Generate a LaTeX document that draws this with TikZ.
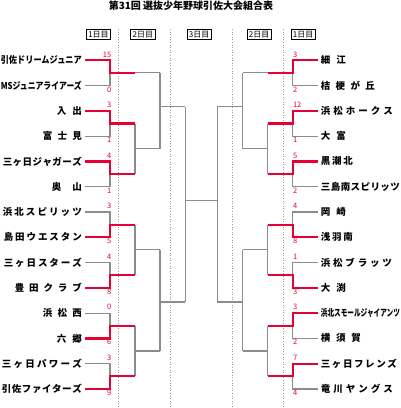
\documentclass[tikz,border=0pt]{standalone}
\usepackage{graphicx,xcolor}
\usepackage{fontspec}
\newfontfamily\jp{Noto Sans CJK JP}
\definecolor{kred}{RGB}{230,0,51}
\definecolor{kgray}{RGB}{140,140,140}

% spread a name to a width, or squeeze it when too long
\newdimen\namewd
\def\spreadchars#1{\ifx#1\relax\else#1\expandafter\spreadnext\fi}
\def\spreadnext#1{\ifx#1\relax\else\hfil#1\expandafter\spreadnext\fi}
\newcommand\fitname[2]{%
  \settowidth\namewd{#2}%
  \ifdim\namewd>#1\relax
    \edef\namesc{\fpeval{(#1)/(\namewd)}}%
    \scalebox{\namesc}[1]{#2}%
  \else
    \makebox[#1][s]{\spreadchars#2\relax}%
  \fi}

\begin{document}
\begin{tikzpicture}[x=1pt, y=-1pt,
  lteam/.style={font=\jp\bfseries\fontsize{9.5}{12}\selectfont, anchor=east,
                inner sep=0pt, inner xsep=3pt},
  rteam/.style={font=\jp\bfseries\fontsize{9.5}{12}\selectfont, anchor=west,
                inner sep=0pt, inner xsep=2.7pt},
  score/.style={font=\jp\fontsize{7.5}{9}\selectfont, text=kred, inner sep=0pt},
  lhi/.style={score, anchor=base east, yshift=3.3pt},
  llo/.style={score, anchor=base east, yshift=-6.5pt},
  rhi/.style={score, anchor=base west, yshift=3.3pt},
  rlo/.style={score, anchor=base west, yshift=-6.5pt},
  daybox/.style={rectangle, draw, line width=0.8pt, minimum width=24.5pt,
                 minimum height=10pt, inner sep=0pt, font=\jp\fontsize{8}{8}\selectfont},
  lose/.style={draw=kgray, line width=1.1pt},
  win/.style={draw=kred, line width=2.2pt},
  sepline/.style={draw=kgray!85, line width=0.8pt, dash pattern=on 1pt off 1.6pt}
]
\useasboundingbox (0,0) rectangle (400,408);

% Title and day headers
\node[font=\jp\bfseries\fontsize{10}{12}\selectfont, inner sep=0pt] (title) at (191,5.3) {第31回 選抜少年野球引佐大会組合表};
\node[daybox] (d1l) at (98.5,34.5)  {1日目};
\node[daybox] (d2l) at (142.8,34.5) {2日目};
\node[daybox] (d3)  at (199.2,34.5) {3日目};
\node[daybox] (d2r) at (259.2,34.5) {2日目};
\node[daybox] (d1r) at (303.2,34.5) {1日目};

% Day separators
\draw[sepline] (118.3,29) -- (118.3,408);
\draw[sepline] (170.7,29) -- (170.7,408);
\draw[sepline] (232.0,29) -- (232.0,408);
\draw[sepline] (283.3,29) -- (283.3,408);

% Left teams
\node[lteam] (L1)  at (85,60.3)  {\fitname{81pt}{引佐ドリームジュニア}};
\node[lteam] (L2)  at (85,85.6)  {\fitname{81pt}{MSジュニアライアーズ}};
\node[lteam] (L3)  at (85,110.9) {\fitname{25pt}{入出}};
\node[lteam] (L4)  at (85,136.1) {\fitname{39pt}{富士見}};
\node[lteam] (L5)  at (85,161.4) {\fitname{79pt}{三ヶ日ジャガーズ}};
\node[lteam] (L6)  at (85,186.7) {\fitname{30pt}{奥山}};
\node[lteam] (L7)  at (85,212.0) {\fitname{79pt}{浜北スピリッツ}};
\node[lteam] (L8)  at (85,237.3) {\fitname{78pt}{島田ウエスタン}};
\node[lteam] (L9)  at (85,262.5) {\fitname{78pt}{三ヶ日スターズ}};
\node[lteam] (L10) at (85,287.8) {\fitname{67pt}{豊田クラブ}};
\node[lteam] (L11) at (85,313.1) {\fitname{39pt}{浜松西}};
\node[lteam] (L12) at (85,338.4) {\fitname{25pt}{六郷}};
\node[lteam] (L13) at (85,363.7) {\fitname{80pt}{三ヶ日パワーズ}};
\node[lteam] (L14) at (85,389.0) {\fitname{80pt}{引佐ファイターズ}};

% Right teams
\node[rteam] (R1)  at (318,60.3)  {\fitname{25pt}{細江}};
\node[rteam] (R2)  at (318,85.6)  {\fitname{54pt}{桔梗が丘}};
\node[rteam] (R3)  at (318,110.9) {\fitname{72pt}{浜松ホークス}};
\node[rteam] (R4)  at (318,136.1) {\fitname{25pt}{大富}};
\node[rteam] (R5)  at (318,161.4) {\fitname{32pt}{黒潮北}};
\node[rteam] (R6)  at (318,186.7) {\fitname{79pt}{三島南スピリッツ}};
\node[rteam] (R7)  at (318,212.0) {\fitname{25pt}{岡崎}};
\node[rteam] (R8)  at (318,237.3) {\fitname{32pt}{浅羽南}};
\node[rteam] (R9)  at (318,262.5) {\fitname{71pt}{浜松ブラッツ}};
\node[rteam] (R10) at (318,287.8) {\fitname{25pt}{大渕}};
\node[rteam] (R11) at (318,313.1) {\fitname{79pt}{浜北スモールジャイアンツ}};
\node[rteam] (R12) at (318,338.4) {\fitname{40pt}{横須賀}};
\node[rteam] (R13) at (318,363.7) {\fitname{76pt}{三ヶ日フレンズ}};
\node[rteam] (R14) at (318,389.0) {\fitname{72pt}{竜川ヤングス}};

% Bracket points, left
\coordinate (lm1) at (110,72.9);  \coordinate (lw1) at (135,72.9);
\coordinate (lm2) at (110,123.5); \coordinate (lw2) at (135,123.5);
\coordinate (lm3) at (110,174.1); \coordinate (lw3) at (135,174.1);
\coordinate (lm4) at (110,224.6); \coordinate (lw4) at (135,224.6);
\coordinate (lm5) at (110,275.2); \coordinate (lw5) at (135,275.2);
\coordinate (lm6) at (110,325.8); \coordinate (lw6) at (135,325.8);
\coordinate (lm7) at (110,376.3); \coordinate (lw7) at (135,376.3);
\coordinate (lb1)  at (160,72.9);
\coordinate (lj23) at (135,148.8); \coordinate (lb23) at (160,148.8);
\coordinate (lj45) at (135,249.9); \coordinate (lb45) at (160,249.9);
\coordinate (lj67) at (135,351.0); \coordinate (lb67) at (160,351.0);
\coordinate (lt1) at (160,106.7); \coordinate (lf1) at (185.3,106.7);
\coordinate (lt2) at (160,302.0); \coordinate (lf2) at (185.3,302.0);
\coordinate (lc)  at (185.3,200.7);

% Bracket points, right
\coordinate (rm1) at (292.8,72.9);  \coordinate (rw1) at (267.8,72.9);
\coordinate (rm2) at (292.8,123.5); \coordinate (rw2) at (267.8,123.5);
\coordinate (rm3) at (292.8,174.1); \coordinate (rw3) at (267.8,174.1);
\coordinate (rm4) at (292.8,224.6); \coordinate (rw4) at (267.8,224.6);
\coordinate (rm5) at (292.8,275.2); \coordinate (rw5) at (267.8,275.2);
\coordinate (rm6) at (292.8,325.8); \coordinate (rw6) at (267.8,325.8);
\coordinate (rm7) at (292.8,376.3); \coordinate (rw7) at (267.8,376.3);
\coordinate (rb1)  at (242.5,72.9);
\coordinate (rj23) at (267.8,148.8); \coordinate (rb23) at (242.5,148.8);
\coordinate (rj45) at (267.8,249.9); \coordinate (rb45) at (242.5,249.9);
\coordinate (rj67) at (267.8,351.0); \coordinate (rb67) at (242.5,351.0);
\coordinate (rt1) at (242.5,106.7); \coordinate (rf1) at (217.3,106.7);
\coordinate (rt2) at (242.5,302.0); \coordinate (rf2) at (217.3,302.0);
\coordinate (rc)  at (217.3,200.7);

% Losing lines and later rounds
\draw[lose] (L2.east) -| (lm1);  \draw[lose] (L4.east) -| (lm2);
\draw[lose] (L6.east) -| (lm3);  \draw[lose] (L7.east) -| (lm4);
\draw[lose] (L9.east) -| (lm5);  \draw[lose] (L11.east) -| (lm6);
\draw[lose] (L13.east) -| (lm7);
\draw[lose] (R2.west) -| (rm1);  \draw[lose] (R4.west) -| (rm2);
\draw[lose] (R6.west) -| (rm3);  \draw[lose] (R7.west) -| (rm4);
\draw[lose] (R9.west) -| (rm5);  \draw[lose] (R12.west) -| (rm6);
\draw[lose] (R14.west) -| (rm7);

\draw[lose] (lw1) -- (lb1) (lw2) -- (lw3) (lj23) -- (lb23)
            (lw4) -- (lw5) (lj45) -- (lb45) (lw6) -- (lw7) (lj67) -- (lb67);
\draw[lose] (lb1) -- (lb23) (lt1) -- (lf1) (lb45) -- (lb67) (lt2) -- (lf2);
\draw[lose] (rw1) -- (rb1) (rw2) -- (rw3) (rj23) -- (rb23)
            (rw4) -- (rw5) (rj45) -- (rb45) (rw6) -- (rw7) (rj67) -- (rb67);
\draw[lose] (rb1) -- (rb23) (rt1) -- (rf1) (rb45) -- (rb67) (rt2) -- (rf2);
\draw[lose] (lf1) -- (lf2) (lc) -- (rc) (rf1) -- (rf2);

% Winning lines
\draw[win] (L1.east)  -| (lm1) -- (lw1);
\draw[win] (L3.east)  -| (lm2) -- (lw2);
\draw[win] (L5.east)  -| (lm3) -- (lw3);
\draw[win] (L8.east)  -| (lm4) -- (lw4);
\draw[win] (L10.east) -| (lm5) -- (lw5);
\draw[win] (L12.east) -| (lm6) -- (lw6);
\draw[win] (L14.east) -| (lm7) -- (lw7);
\draw[win] (R1.west)  -| (rm1) -- (rw1);
\draw[win] (R3.west)  -| (rm2) -- (rw2);
\draw[win] (R5.west)  -| (rm3) -- (rw3);
\draw[win] (R8.west)  -| (rm4) -- (rw4);
\draw[win] (R10.west) -| (rm5) -- (rw5);
\draw[win] (R11.west) -| (rm6) -- (rw6);
\draw[win] (R13.west) -| (rm7) -- (rw7);

% Scores
\node[lhi] (sl1)  at (111.5,60.3)  {15};
\node[llo] (sl2)  at (111.5,85.6)  {0};
\node[lhi] (sl3)  at (111.5,110.9) {3};
\node[llo] (sl4)  at (111.5,136.1) {1};
\node[lhi] (sl5)  at (111.5,161.4) {4};
\node[llo] (sl6)  at (111.5,186.7) {1};
\node[lhi] (sl7)  at (111.5,212.0) {3};
\node[llo] (sl8)  at (111.5,237.3) {5};
\node[lhi] (sl9)  at (111.5,262.5) {4};
\node[llo] (sl10) at (111.5,287.8) {8};
\node[lhi] (sl11) at (111.5,313.1) {0};
\node[llo] (sl12) at (111.5,338.4) {6};
\node[lhi] (sl13) at (111.5,363.7) {3};
\node[llo] (sl14) at (111.5,389.0) {9};
\node[rhi] (sr1)  at (292.8,60.3)  {3};
\node[rlo] (sr2)  at (292.8,85.6)  {2};
\node[rhi] (sr3)  at (292.8,110.9) {12};
\node[rlo] (sr4)  at (292.8,136.1) {1};
\node[rhi] (sr5)  at (292.8,161.4) {5};
\node[rlo] (sr6)  at (292.8,186.7) {2};
\node[rhi] (sr7)  at (292.8,212.0) {4};
\node[rlo] (sr8)  at (292.8,237.3) {8};
\node[rhi] (sr9)  at (292.8,262.5) {1};
\node[rlo] (sr10) at (292.8,287.8) {3};
\node[rhi] (sr11) at (292.8,313.1) {3};
\node[rlo] (sr12) at (292.8,338.4) {2};
\node[rhi] (sr13) at (292.8,363.7) {7};
\node[rlo] (sr14) at (292.8,389.0) {4};
\end{tikzpicture}
\end{document}
